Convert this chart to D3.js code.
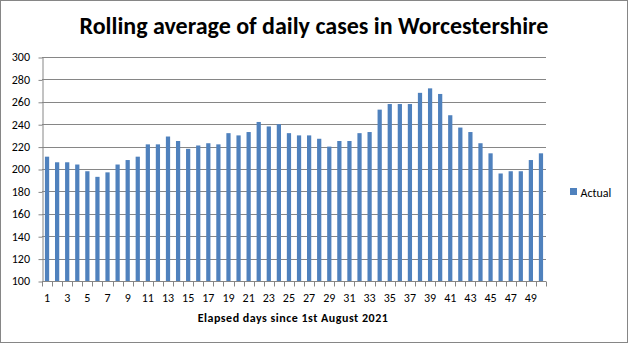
<!DOCTYPE html>
<html><head><meta charset="utf-8">
<script src="https://cdn.jsdelivr.net/npm/d3@7"></script>
<style>body{margin:0;background:#fff}svg{display:block}</style>
</head><body>
<script>
const days = d3.range(1, 51);
const actual = [211,206,206,204,198,193,197,204,208,211,222,222,229,225,218,221,223,222,232,230,233,242,238,240,232,230,230,227,220,225,225,232,233,253,258,258,258,268,272,267,248,237,233,223,214,196,198,198,208,214];
const yTicks = [100,120,140,160,180,200,220,240,260,280,300];
const xLabels = days.filter(d => d % 2 === 1);
const title = "Rolling average of daily cases in Worcestershire";
const xTitle = "Elapsed days since 1st August 2021";
const seriesName = "Actual";

const W = 629, H = 344;
const m = {l: 42, r: 83, t: 57, b: 63};
const svg = d3.select("body").append("svg").attr("width", W).attr("height", H);
svg.append("rect").attr("x", 0.5).attr("y", 0.5).attr("width", W - 2).attr("height", H - 2)
  .attr("fill", "#fff").attr("stroke", "#868686");

const x = d3.scaleBand().domain(days).range([m.l, W - m.r]).paddingInner(0.58).paddingOuter(0.29);
const y = d3.scaleLinear().domain([100, 300]).range([H - m.b, m.t]);
const font = "Calibri, Carlito, 'Open Sans', 'Liberation Sans', sans-serif";

// gridlines
svg.append("g").selectAll("line").data(yTicks.slice(1)).join("line")
  .attr("x1", m.l).attr("x2", W - m.r).attr("y1", d => Math.round(y(d)) + 0.5).attr("y2", d => Math.round(y(d)) + 0.5)
  .attr("stroke", "#868686");

// y axis
const ya = svg.append("g").attr("transform", `translate(${m.l + 0.5},0)`)
  .call(d3.axisLeft(y).tickValues(yTicks).tickSize(4).tickSizeOuter(0));
ya.select(".domain").attr("stroke", "#868686");
ya.selectAll(".tick line").attr("stroke", "#868686").attr("transform", "translate(0,0.5)");
ya.selectAll("text").attr("font-family", font).attr("font-size", 12).attr("fill", "#000").attr("dx", -5.5);

// bars
svg.append("g").selectAll("rect").data(actual).join("rect")
  .attr("x", (d, i) => x(days[i])).attr("width", x.bandwidth())
  .attr("y", d => y(d)).attr("height", d => y(100) - y(d))
  .attr("fill", "#4F81BD");

// x axis
const step = x.step();
const xa = svg.append("g").attr("transform", `translate(0,${Math.round(y(100)) + 0.5})`);
xa.append("line").attr("x1", m.l).attr("x2", W - m.r).attr("stroke", "#868686");
const bounds = d3.range(days.length + 1).map(i => m.l + i * step);
xa.selectAll("line.tk").data(bounds).join("line").attr("class", "tk")
  .attr("x1", d => Math.round(d) + 0.5).attr("x2", d => Math.round(d) + 0.5).attr("y1", 0).attr("y2", 5)
  .attr("stroke", "#868686");
xa.selectAll("text").data(xLabels).join("text")
  .attr("x", d => x(d) + x.bandwidth() / 2).attr("y", 20.5)
  .attr("text-anchor", "middle").attr("font-family", font).attr("font-size", 12).text(d => d);

// titles
svg.append("text").attr("x", 314).attr("y", 34).attr("text-anchor", "middle")
  .attr("font-family", font).attr("font-weight", "bold").attr("font-size", 24).text(title);
svg.append("text").attr("x", 293).attr("y", 322).attr("text-anchor", "middle")
  .attr("font-family", font).attr("font-weight", "bold").attr("font-size", 12)
  .attr("letter-spacing", 0.5).text(xTitle);

// legend
const lg = svg.append("g").attr("transform", "translate(570,188)");
lg.append("rect").attr("width", 7).attr("height", 7).attr("fill", "#4F81BD");
lg.append("text").attr("x", 10.5).attr("y", 8.5).attr("font-family", font).attr("font-size", 12).text(seriesName);
</script>
</body></html>
